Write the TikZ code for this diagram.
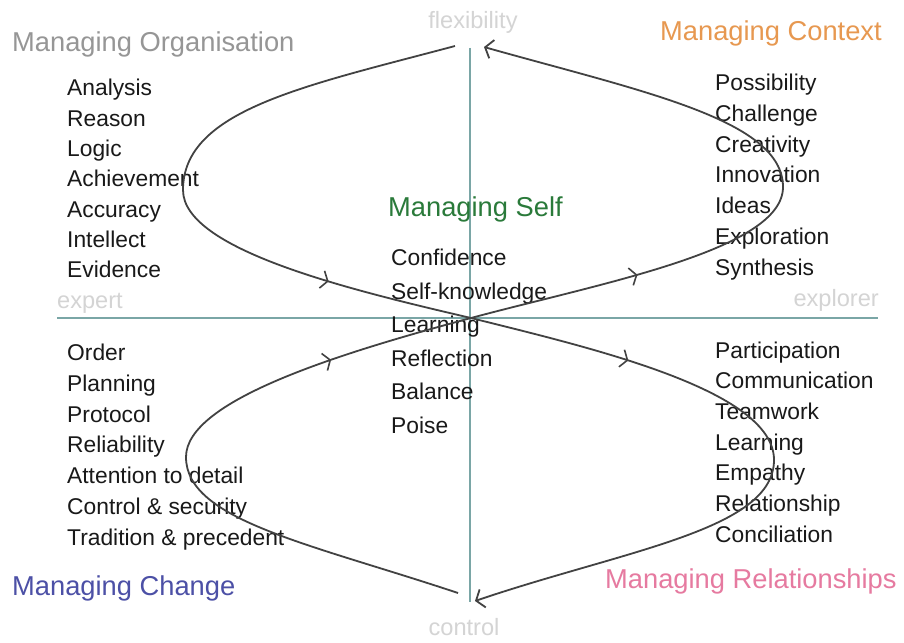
\documentclass[tikz,border=0pt]{standalone}
\usepackage{fontspec}
\setmainfont{Liberation Sans}
\usetikzlibrary{arrows.meta,decorations.markings}
\definecolor{axisteal}{RGB}{122,166,166}
\definecolor{loopgray}{RGB}{66,66,66}
\definecolor{faintgray}{RGB}{212,212,212}
\definecolor{orggray}{RGB}{150,150,150}
\definecolor{contextorange}{RGB}{231,152,80}
\definecolor{selfgreen}{RGB}{42,122,58}
\definecolor{changeblue}{RGB}{76,80,166}
\definecolor{relpink}{RGB}{230,122,160}
\begin{document}
\begin{tikzpicture}[x=1pt,y=-1pt,
    head/.style={anchor=base west,inner sep=0,font=\fontsize{27.3}{32}\selectfont},
    wordlist/.style={anchor=base west,inner sep=0,align=left,text=black!90,font=\fontsize{22.8}{#1}\selectfont},
    axislabel/.style={inner sep=0,text=faintgray,font=\fontsize{23.6}{28}\selectfont},
    loopline/.style={draw=loopgray,line width=1.8pt},
    midarrow/.style={postaction={decorate,decoration={markings,
        mark=at position #1 with {\arrow[loopgray,line width=1.6pt]{Straight Barb[length=6pt,width=18pt]}}}}}]
    \useasboundingbox[fill=white] (0,0) rectangle (904,642);

    % axes
    \coordinate (axN) at (470,48);
    \coordinate (axS) at (470,602);
    \coordinate (axW) at (57,318);
    \coordinate (axE) at (878,318);
    \draw[axisteal,line width=1.4pt] (axN) -- (axS);
    \draw[axisteal,line width=1.4pt] (axW) -- (axE);
    \node[axislabel,anchor=base] (flex) at (473,28.3) {flexibility};
    \node[axislabel,anchor=base] (ctrl) at (464,635) {control};
    \node[axislabel,anchor=base west] (expert) at (57,308) {expert};
    \node[axislabel,anchor=base east] (explorer) at (879,306.7) {explorer};

    % headings
    \node[head,text=orggray] (hOrg) at (12,51.7) {Managing Organisation};
    \node[head,text=contextorange] (hCon) at (660,40.7) {Managing Context};
    \node[head,text=selfgreen] (hSelf) at (388,216.7) {Managing Self};
    \node[head,text=changeblue] (hChg) at (12,595) {Managing Change};
    \node[head,text=relpink] (hRel) at (605,588) {Managing Relationships};

    % word lists (anchored on the baseline of the last line)
    \node[wordlist=30.33] (orgList) at (67,277.7) {Analysis\\Reason\\Logic\\Achievement\\Accuracy\\Intellect\\Evidence};
    \node[wordlist=30.7] (chgList) at (67,545) {Order\\Planning\\Protocol\\Reliability\\Attention to detail\\Control \& security\\Tradition \& precedent};
    \node[wordlist=30.7] (conList) at (715,275) {Possibility\\Challenge\\Creativity\\Innovation\\Ideas\\Exploration\\Synthesis};
    \node[wordlist=30.67] (relList) at (715,542.3) {Participation\\Communication\\Teamwork\\Learning\\Empathy\\Relationship\\Conciliation};
    \node[wordlist=33.5] (selfList) at (391,433.3) {Confidence\\Self-knowledge\\Learning\\Reflection\\Balance\\Poise};

    % the two loops
    \coordinate (mid) at (471,318);
    \coordinate (topA) at (455,46);
    \coordinate (topB) at (484,47);
    \coordinate (botA) at (475,601);
    \coordinate (botB) at (458,593);
    \coordinate (orgW) at (183,190);
    \coordinate (conE) at (783,187);
    \coordinate (chgW) at (186,457);
    \coordinate (relE) at (774,460);
    \draw[loopline,midarrow=-147pt] (topA) .. controls +(-150,40) and +(0,-80) .. (orgW)
        .. controls +(0,60) and +(-120,-28) .. (mid);
    \draw[loopline,midarrow=163pt,-{Straight Barb[length=7pt,width=19pt]}] (mid) .. controls +(120,30) and +(0,-70) .. (relE)
        .. controls +(0,70) and +(150,-51) .. (botA);
    \draw[loopline,midarrow=-146pt] (botB) .. controls +(-150,-50) and +(0,63) .. (chgW)
        .. controls +(0,-57) and +(-130,35) .. (mid);
    \draw[loopline,midarrow=172pt,-{Straight Barb[length=7pt,width=19pt]}] (mid) .. controls +(130,-35) and +(0,63) .. (conE)
        .. controls +(0,-67) and +(160,45) .. (topB);
\end{tikzpicture}
\end{document}
